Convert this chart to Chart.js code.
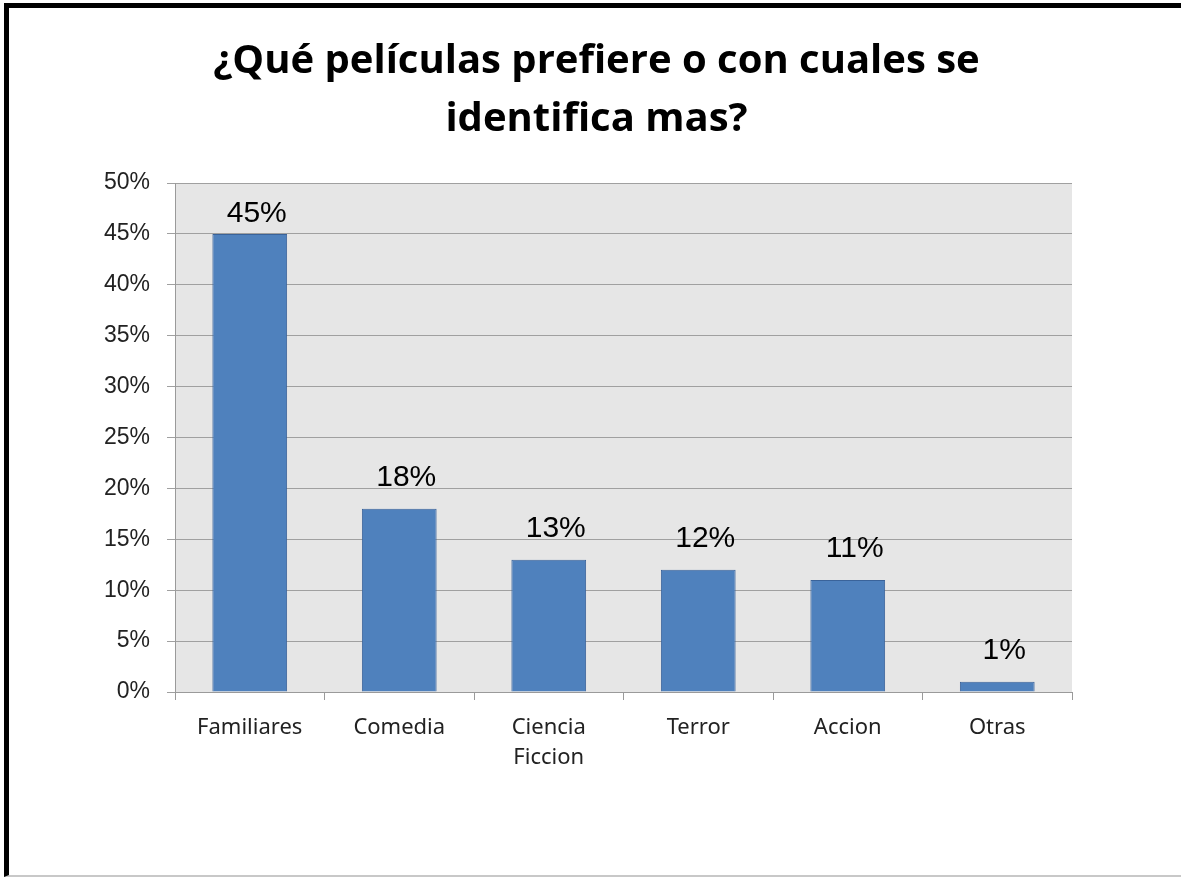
<!DOCTYPE html>
<html>
<head>
<meta charset="utf-8">
<script src="https://cdn.jsdelivr.net/npm/chart.js@4.4.1/dist/chart.umd.min.js"></script>
<style>
  html, body { margin: 0; padding: 0; background: #fff; }
  #wrap { position: relative; width: 1181px; height: 880px; overflow: hidden; }
  #frame { position: absolute; left: 4px; top: 3px; width: 1177px; height: 874px;
           border-top: 5px solid #000; border-left: 5px solid #000; border-bottom: 2px solid #c8c8c8;
           box-sizing: border-box; pointer-events: none; }
  canvas { position: absolute; left: 0; top: 0; }
</style>
</head>
<body>
<div id="wrap">
  <canvas id="c" width="1181" height="880"></canvas>
  <div id="frame"></div>
</div>
<script>
const titleLines = ['¿Qué películas prefiere o con cuales se', 'identifica mas?'];
const categories = [['Familiares'], ['Comedia'], ['Ciencia', 'Ficcion'], ['Terror'], ['Accion'], ['Otras']];
const values = [45, 18, 13, 12, 11, 1];
const yMin = 0, yMax = 50, yStep = 5;

const plotBg = {
  id: 'plotBg',
  beforeDraw(chart) {
    const { ctx, chartArea: a } = chart;
    ctx.save();
    ctx.fillStyle = '#E6E6E6';
    ctx.fillRect(a.left, a.top, a.right - a.left, a.bottom - a.top);
    ctx.restore();
  }
};

const valueLabels = {
  id: 'valueLabels',
  afterDatasetsDraw(chart) {
    const { ctx, chartArea: a } = chart;
    const meta = chart.getDatasetMeta(0);
    ctx.save();
    ctx.font = '30px "Liberation Sans", Arial, sans-serif';
    ctx.fillStyle = '#000';
    ctx.textAlign = 'center';
    ctx.textBaseline = 'alphabetic';
    meta.data.forEach((bar, i) => {
      let y = bar.y - 23;
      if (y < a.top + 39) y = a.top + 39;
      ctx.fillText(values[i] + '%', bar.x + 7, y);
    });
    ctx.restore();
  }
};

new Chart(document.getElementById('c'), {
  type: 'bar',
  data: {
    labels: categories,
    datasets: [{
      data: values,
      backgroundColor: '#4F81BD',
      borderColor: '#3A639A',
      borderWidth: 1,
      barPercentage: 0.5,
      categoryPercentage: 1.0
    }]
  },
  options: {
    responsive: false,
    animation: false,
    layout: { padding: { left: 12, right: 0, top: 0, bottom: 0 } },
    plugins: {
      legend: { display: false },
      tooltip: { enabled: false },
      title: {
        display: true,
        text: titleLines,
        color: '#000',
        font: { family: '"Open Sans", "Noto Sans", sans-serif', size: 40, weight: 'bold', lineHeight: 1.45 },
        padding: { top: 33, bottom: 34 }
      }
    },
    scales: {
      x: {
        afterFit(s) { s.height = 188; },
        grid: { offset: true, drawOnChartArea: false, drawTicks: true, tickLength: 8, color: '#9A9A9A' },
        border: { display: true, color: '#9A9A9A' },
        ticks: {
          color: '#222',
          font: { family: '"Noto Sans", sans-serif', size: 22, lineHeight: 1.4 },
          padding: 12,
          maxRotation: 0, autoSkip: false
        }
      },
      y: {
        min: yMin, max: yMax,
        afterFit(s) { s.width = 163; },
        grid: { color: '#A0A0A0', tickLength: 8, drawTicks: true },
        border: { display: true, color: '#9A9A9A' },
        ticks: {
          stepSize: yStep,
          color: '#222',
          font: { family: '"Liberation Sans", Arial, sans-serif', size: 23 },
          padding: 17,
          callback: v => v + '%'
        }
      },
      yRight: {
        position: 'right',
        min: yMin, max: yMax,
        afterFit(s) { s.width = 109; },
        grid: { display: false },
        border: { display: false },
        ticks: { display: false }
      }
    }
  },
  plugins: [plotBg, valueLabels]
});
</script>
</body>
</html>
